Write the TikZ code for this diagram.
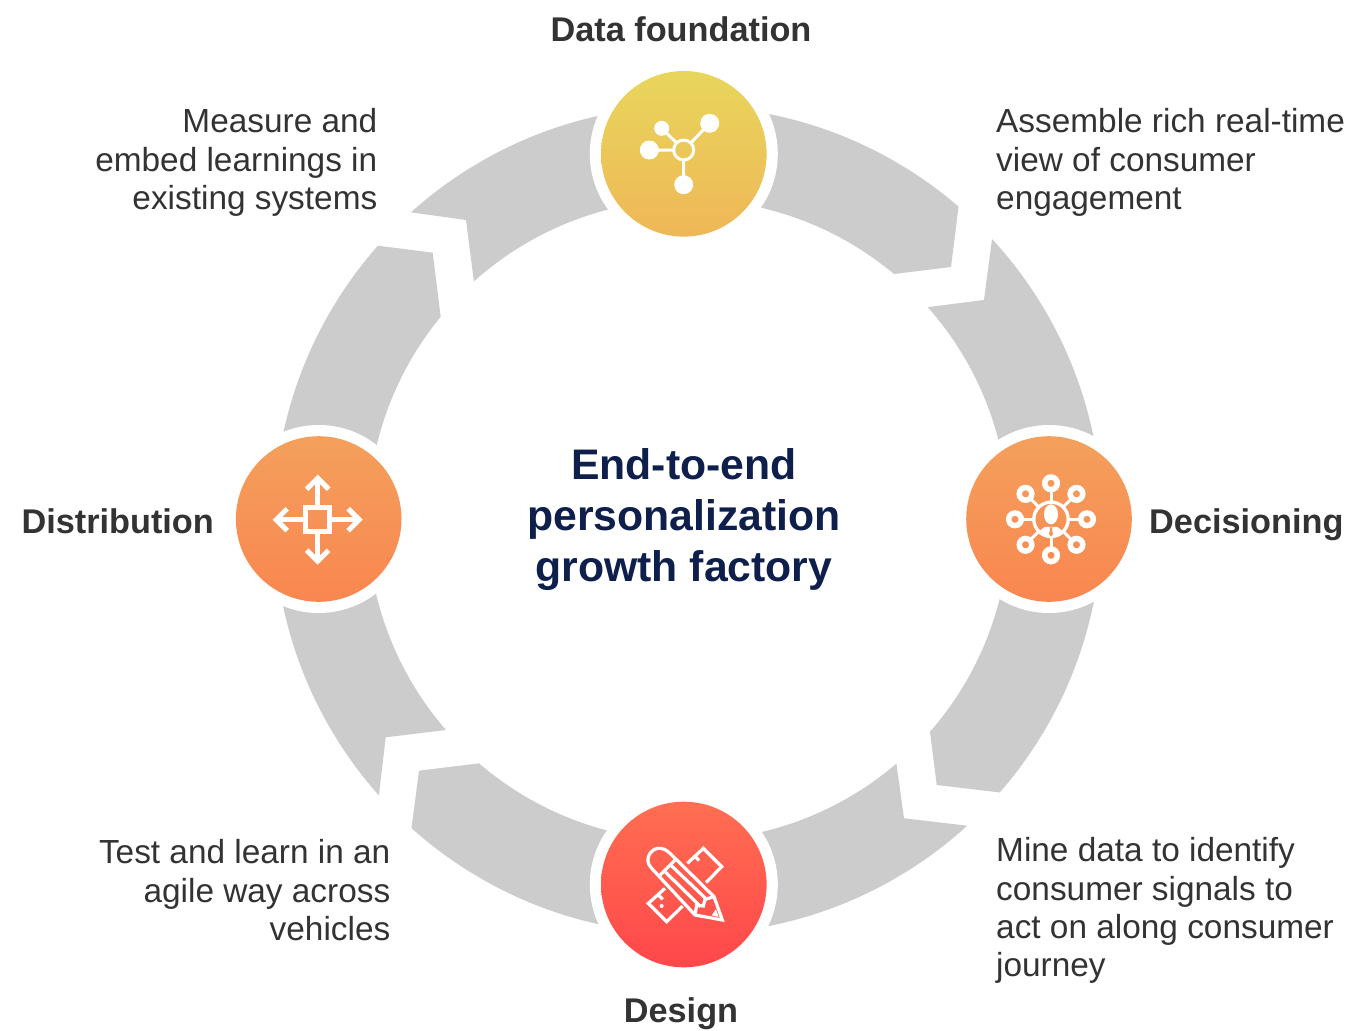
\documentclass[tikz,border=0pt]{standalone}
\usepackage{fontspec}
\setmainfont{Liberation Sans}
\definecolor{segray}{HTML}{CCCCCC}
\definecolor{inktext}{HTML}{333333}
\definecolor{navy}{HTML}{0E1F4C}
\definecolor{midorange}{HTML}{F69355}
\definecolor{yelTop}{HTML}{E8D65C}
\definecolor{yelBot}{HTML}{EFB757}
\definecolor{ornTop}{HTML}{F4A05C}
\definecolor{ornBot}{HTML}{F98650}
\definecolor{redTop}{HTML}{FF6E52}
\definecolor{redBot}{HTML}{FF474A}
\tikzset{
  x=1bp,y=-1bp,
  seg/.style={fill=segray,draw=none},
  halo/.style={circle,fill=white,minimum size=188bp,inner sep=0pt},
  disc/.style={circle,minimum size=165.6bp,inner sep=0pt},
  ink/.style={draw=white,line width=#1,fill=none},
  body/.style={inner sep=0pt,text=inktext,font=\fontsize{33.5}{38.4}\selectfont,align=#1},
  head/.style={inner sep=0pt,text=inktext,font=\fontsize{34.4}{38}\selectfont\bfseries},
}
\def\Ro{414}\def\Ri{320.6}
\begin{document}
\begin{tikzpicture}
\useasboundingbox (0,0) rectangle (1351,1030);
\fill[white] (0,0) rectangle (1351,1030);
% grey ring segments, centre (688,520)
\begin{scope}[shift={(688,520)}]
\path[seg] (-90.6:\Ro) arc[start angle=-90.6,end angle=-49.2,radius=\Ro] -- (263,-253) -- (206,-246) arc[start angle=-50.1,end angle=-90.6,radius=\Ri] -- cycle;
\path[seg] (-42.75:\Ro) arc[start angle=-42.75,end angle=0,radius=\Ro] -- (0:\Ri) arc[start angle=0,end angle=-41.6,radius=\Ri] -- (296,-220) -- cycle;
\path[seg] (0:\Ro) arc[start angle=0,end angle=41.15,radius=\Ro] -- (248.7,265) -- (242,211.7) arc[start angle=41.2,end angle=0,radius=\Ri] -- cycle;
\path[seg] (47.6:\Ro) arc[start angle=47.6,end angle=90,radius=\Ro] -- (90:\Ri) arc[start angle=90,end angle=49.45,radius=\Ri] -- (216,298.3) -- cycle;
\path[seg] (90:\Ro) arc[start angle=90,end angle=131.9,radius=\Ro] -- (-269,250.7) -- (-209,243.3) arc[start angle=130.7,end angle=90,radius=\Ri] -- cycle;
\path[seg] (180:\Ro) arc[start angle=180,end angle=138.3,radius=\Ro] -- (-302.3,217.3) -- (-242,210) arc[start angle=139,end angle=180,radius=\Ri] -- cycle;
\path[seg] (180:\Ro) arc[start angle=180,end angle=221.5,radius=\Ro] -- (-255.3,-267.3) -- (-247.3,-203.3) arc[start angle=219.4,end angle=180,radius=\Ri] -- cycle;
\path[seg] (228:\Ro) arc[start angle=228,end angle=270,radius=\Ro] -- (270:\Ri) arc[start angle=270,end angle=228.1,radius=\Ri] -- (-222,-300) -- cycle;
\end{scope}
% white halos and discs
\node[halo] (haloA) at (683.8,153.8) {};
\node[halo] (haloB) at (1049,519) {};
\node[halo] (haloC) at (683.8,884.5) {};
\node[halo] (haloD) at (318.7,519) {};
\node[disc,top color=yelTop,bottom color=yelBot] (discA) at (haloA) {};
\node[disc,top color=ornTop,bottom color=ornBot] (discB) at (haloB) {};
\node[disc,top color=redTop,bottom color=redBot] (discC) at (haloC) {};
\node[disc,top color=ornTop,bottom color=ornBot] (discD) at (haloD) {};
% icon: data foundation
\begin{scope}[shift={(683.7,150)}]
\draw[ink=3bp] (0,0) circle[radius=10];
\fill[white] (26,-26.7) circle[radius=9.5] (-22,-21.7) circle[radius=7.5] (-34.4,0) circle[radius=9.5] (0,34.7) circle[radius=9.5];
\draw[ink=3bp] (7,-7) -- (26,-26.7) (-7,-7) -- (-22,-21.7) (-10,0) -- (-34.4,0) (0,10) -- (0,34.7);
\end{scope}
% icon: decisioning
\begin{scope}[shift={(1051,519.3)}]
\draw[ink=3.3bp] (0,0) circle[radius=17.2];
\foreach \a in {0,45,...,315}{
  \draw[ink=5.5bp] (\a:36) circle[radius=6.3];
  \draw[ink=3bp] (\a:17.5) -- (\a:28);
}
\fill[white] (0,-5) ellipse[x radius=7,y radius=10];
\begin{scope}
\clip (0,0) circle[radius=17.5];
\fill[white] (-19,17) -- (-6,7.5) -- (6,7.5) -- (19,17) -- (19,25) -- (-19,25) -- cycle;
\end{scope}
\path[fill=midorange] (-1.5,8) -- (1.5,8) -- (1,10) -- (2,15) -- (0,17) -- (-2,15) -- (-1,10) -- cycle;
\end{scope}
% icon: design
\begin{scope}[shift={(640,840)},x=0.3333bp,y=-0.3333bp,line join=miter]
\draw[ink=3.2bp] (35,85) -- (165,225) -- (247,240) -- (222,170) -- (90,40) .. controls (65,15) and (40,25) .. (30,40) .. controls (20,55) and (22,72) .. (35,85) -- cycle;
\draw[ink=3.2bp] (57,108) -- (107,58) (75,95) -- (182,200) (95,78) -- (202,180);
\draw[ink=3.2bp] (165,225) -- (170,195) -- (190,198) -- (195,178) -- (222,170);
\fill[white] (215,226) -- (236,231) -- (228,208) -- cycle;
\draw[ink=3.2bp] (142,70) -- (190,25) -- (245,80) -- (198,128);
\draw[ink=3.2bp] (75,145) -- (25,190) -- (80,245) -- (128,198);
\draw[ink=3.2bp] (165,48) -- (177,62) (55,165) -- (68,178);
\fill[white] (65,198) circle[radius=6];
\end{scope}
% icon: distribution
\begin{scope}[shift={(317.7,519.7)},line join=miter]
\draw[ink=5.5bp] (-12,-12) rectangle (12,12);
\foreach \a in {0,90,180,270}{
  \begin{scope}[rotate=\a]
  \draw[ink=4.6bp] (14,0) -- (41,0);
  \draw[ink=5bp] (30.5,-11) -- (41.5,0) -- (30.5,11);
  \end{scope}
}
\end{scope}
% labels
\node[head,anchor=base] (lblA) at (681,41) {Data foundation};
\node[head,anchor=base] (lblC) at (681,1022) {Design};
\node[head,anchor=base east] (lblD) at (214,533) {Distribution};
\node[head,anchor=base west] (lblB) at (1149,533) {Decisioning};
\node[body=left,anchor=north west] (txtB) at (996,108.5) {Assemble rich real-time\\view of consumer\\engagement};
\node[body=right,anchor=north east] (txtA) at (377.5,108.5) {Measure and\\embed learnings in\\existing systems};
\node[body=left,anchor=north west] (txtC) at (996,837.5) {Mine data to identify\\consumer signals to\\act on along consumer\\journey};
\node[body=right,anchor=north east] (txtD) at (390.5,839.5) {Test and learn in an\\agile way across\\vehicles};
\node[inner sep=0pt,text=navy,align=center,font=\fontsize{42.9}{51.4}\selectfont\bfseries,anchor=north] (title) at (684,448) {End-to-end\\personalization\\growth factory};
\end{tikzpicture}
\end{document}
